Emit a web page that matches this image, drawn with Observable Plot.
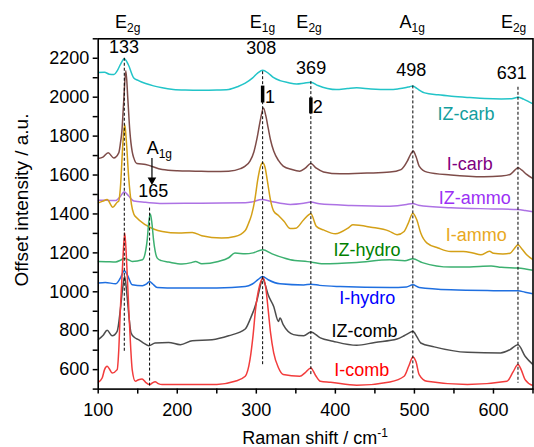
<!DOCTYPE html>
<html><head><meta charset="utf-8">
<script src="https://cdn.jsdelivr.net/npm/d3@7"></script>
<script src="https://cdn.jsdelivr.net/npm/@observablehq/plot@0.6"></script>
<style>body{margin:0;background:#fff;} svg{display:block}</style>
</head><body><div id="chart"></div>
<script>
const FONT = "Liberation Sans, Arial, Helvetica, sans-serif";

// ---- spectra (Raman shift cm^-1, offset intensity) ----
const izCarb = [[100,2127],[108,2128],[114,2118],[120,2116],[124,2135],[128,2167],[133,2198],[138,2168],[145,2099],[151,2085],[160,2070],[170,2058],[181,2048],[195,2040],[210,2037],[230,2036],[250,2037],[265,2040],[277,2055],[286,2072],[295,2098],[302,2125],[308,2138],[315,2124],[322,2100],[330,2085],[340,2075],[351,2068],[360,2072],[369,2077],[378,2060],[390,2045],[401,2039],[415,2044],[427,2048],[445,2042],[469,2039],[480,2043],[488,2048],[494,2054],[498,2058],[503,2045],[513,2022],[530,2012],[547,2005],[570,1998],[589,1993],[610,1991],[623,1992],[631,2000],[638,1990],[645,1976],[650,1966]];
const iCarb = [[100,1685],[106,1692],[112.6,1714],[119.7,1688],[126,1714],[128,1760],[130,1827],[132,1960],[135,2136],[137.5,1990],[140,1827],[143,1720],[145,1688],[149,1659],[160,1654],[181,1628],[200,1622],[223,1620],[245,1618],[265,1620],[280,1633],[286,1646],[292,1671],[297,1720],[301,1791],[305,1880],[309,1945],[312,1905],[315,1842],[318,1780],[322,1723],[328,1675],[334,1646],[345,1628],[355,1620],[362,1635],[369,1659],[376,1635],[385,1616],[406,1606],[440,1610],[469,1615],[483,1628],[491,1671],[495,1705],[498.5,1723],[502,1695],[506,1646],[516,1615],[546,1600],[588,1591],[610,1595],[621,1603],[627,1625],[631,1637],[636,1625],[642,1603],[650,1582]];
const izAmmo = [[100,1471],[110,1470],[122,1469],[128,1490],[133,1514],[138,1495],[145,1466],[160,1460],[181,1454],[230,1455],[286,1457],[295,1462],[307,1474],[318,1465],[343,1449],[360,1455],[369,1461],[380,1452],[420,1444],[469,1440],[490,1448],[498,1454],[505,1445],[546,1432],[600,1426],[631,1423],[640,1418],[650,1411]];
const iAmmo = [[100,1457],[106,1466],[111.3,1474],[118.5,1435],[124,1460],[126,1466],[128,1530],[131.5,1780],[133.6,1859],[135.5,1780],[138.6,1586],[142,1450],[145,1400],[149,1379],[160,1344],[181,1310],[202,1302],[219,1305],[231,1288],[256,1276],[273,1284],[286,1315],[290,1350],[294,1395],[298,1470],[302,1580],[305,1640],[308,1663],[311,1640],[314,1570],[318,1470],[322,1415],[328,1392],[335,1362],[343,1325],[350,1327],[360,1370],[369,1401],[376,1336],[385,1318],[400,1298],[416,1327],[422,1344],[445,1332],[468,1312],[478,1293],[487,1310],[492,1350],[498,1404],[503,1370],[508,1302],[516,1250],[530,1225],[546,1207],[562,1207],[574,1199],[584,1190],[595,1208],[600,1198],[612,1194],[621,1198],[626,1220],[631,1242],[636,1220],[642,1190],[650,1165]];
const izHydro = [[100,1156],[110,1155],[122,1153],[128,1162],[133,1173],[138,1165],[143,1156],[156,1165],[160,1210],[162,1267],[164,1360],[166,1400],[168,1350],[170,1267],[172,1210],[174.7,1173],[180,1160],[189,1153],[206,1143],[218,1150],[223,1156],[231,1144],[252,1156],[265,1175],[273,1199],[286,1195],[296,1200],[308,1216],[320,1195],[343,1165],[365,1155],[385,1144],[427,1151],[469,1165],[488,1160],[498,1170],[510,1150],[546,1127],[570,1128],[597,1133],[610,1126],[631,1122],[650,1110]];
const iHydro = [[100,1045],[109,1048],[122,1041],[128,1070],[133,1108],[137,1085],[143,1036],[156,1031],[161,1040],[165,1053],[169,1040],[174.7,1022],[200,1019],[250,1020],[286,1027],[295,1040],[302,1062],[308,1079],[315,1062],[330,1041],[360,1035],[369,1039],[380,1033],[406,1027],[469,1022],[490,1025],[498,1036],[506,1022],[546,1010],[600,1006],[631,1005],[640,998],[650,990]];
const izComb = [[100,754],[106,775],[111.3,802],[117.7,774],[124,797],[128,908],[131,1020],[133.5,1080],[136,1000],[139,870],[141.5,790],[146,765],[151,754],[158,735],[164,723],[172,737],[189,740],[204,728],[219,749],[244,754],[265,774],[286,809],[292,857],[301,959],[305,1030],[308,1071],[311,1040],[315,985],[322,925],[328,848],[330,865],[334,831],[347,780],[360,774],[369,794],[381,763],[397,746],[427,725],[450,740],[478,757],[487,774],[494,790],[498,797],[503,770],[508,737],[525,717],[567,689],[609,686],[621,703],[631,728],[640,669],[650,626]];
const iComb = [[100,535],[105,557],[108,600],[111.3,617],[114,605],[117.7,583],[124,600],[126,700],[128,908],[131,1150],[133.6,1302],[136,1150],[138.7,908],[141,720],[143,600],[147,540],[151,548],[155.5,552],[160,535],[165,523],[168,530],[172,538],[176,528],[181,523],[220,523],[250,524],[273,540],[286,566],[292,651],[296,780],[299,908],[304,1030],[309,1071],[312,1020],[315,908],[318,790],[322,686],[328,610],[334,575],[355,566],[362,585],[369,609],[375,570],[381,540],[394,535],[427,520],[469,537],[487,566],[493,620],[498,665],[502,640],[506,575],[516,540],[567,523],[617,540],[625,590],[631,626],[635,600],[640,549],[650,518]];

const seriesData = [izCarb, iCarb, izAmmo, iAmmo, izHydro, iHydro, izComb, iComb];
const seriesNames = ["IZ-carb","I-carb","IZ-ammo","I-ammo","IZ-hydro","I-hydro","IZ-comb","I-comb"];
const lineColors = ["#22c4c8","#7e4c49","#ad72e4","#d4a017","#3cb070","#1f6fe0","#4d4d4d","#f23c3c"];
const labelColors = ["#139e9e","#800080","#9b30f5","#e8a823","#008000","#0000ff","#000000","#ff0000"];
const labelX = [566, 570.7, 577, 579, 440.6, 441, 437.5, 434];
const labelY = [1878, 1625, 1449, 1259, 1182, 934, 763, 566];

// ---- ticks ----
const xMajor = [100,200,300,400,500,600];
const xMinor = [150,250,350,450,550,650];
const yMajor = [600,800,1000,1200,1400,1600,1800,2000,2200];
const yMinor = [500,700,900,1100,1300,1500,1700,1900,2100,2300];

// ---- peak markers ----
const peakX      = [133, 165, 308, 369, 498, 631];
const peakTop    = [2200, 1430, 2131, 2080, 2058, 2051];
const peakBottom = [686, 515, 625, 570, 545, 530];
const peakText   = ["133","165","308","369","498","631"];
const peakTextX  = [133.3, 170.2, 307, 370, 496.5, 623.7];
const peakTextY  = [2225, 1483, 2217, 2119, 2104, 2089];

const modeMain = ["E","E","E","A","E"];
const modeSub  = ["2g","1g","2g","1g","2g"];
const modeX    = [122, 292.3, 351.3, 481.7, 610];

const bars = [{x:308, y1:1970, y2:2057, tx:311.5, t:"1"}, {x:369, y1:1914, y2:1996, tx:372, t:"2"}];
const arrow = [{x:168, y1:1688, y2:1582, tip:1574}];
const a1gLabel = {x:161.9, y:1706};

const rows = seriesData.flatMap((pts, i) => pts.map(([x, y]) => ({x, y, s: seriesNames[i]})));
const peaks = peakX.map((x, i) => ({x, y1: peakTop[i], y2: peakBottom[i]}));

const chart = Plot.plot({
  width: 534, height: 447,
  marginLeft: 97.7, marginRight: 1.5, marginTop: 38.3, marginBottom: 58.4,
  x: {domain: [100, 650]},
  y: {domain: [500, 2300]},
  color: {domain: seriesNames, range: lineColors},
  style: {fontFamily: FONT, fontSize: "18px", color: "black", background: "white"},
  marks: [
    Plot.line(rows, {x: "x", y: "y", z: "s", stroke: "s", strokeWidth: 1.5, curve: "monotone-x", clip: true}),
    Plot.ruleX(peaks, {x: "x", y1: "y1", y2: "y2", stroke: "black", strokeWidth: 1, strokeDasharray: "3,2"}),
    Plot.ruleX(bars, {x: "x", y1: "y1", y2: "y2", stroke: "black", strokeWidth: 3.5}),
    Plot.link(arrow, {x1: "x", x2: "x", y1: "y1", y2: "y2", stroke: "black", strokeWidth: 1.2}),
    Plot.dot(arrow, {x: "x", y: "tip", symbol: "triangle", r: 3.2, rotate: 180, fill: "black", stroke: null}),
    Plot.frame({stroke: "black", strokeWidth: 1.6}),
    Plot.axisX({ticks: xMajor, tickSize: 5, tickPadding: 9, strokeWidth: 1.5, fontSize: 18, tickFormat: d => String(d), label: null}),
    Plot.axisX({ticks: xMinor, tickSize: 5, tickFormat: () => "", strokeWidth: 1.5, label: null}),
    Plot.axisY({ticks: yMajor, tickSize: 5, tickPadding: 4, strokeWidth: 1.5, fontSize: 18, tickFormat: d => String(d), label: null}),
    Plot.axisY({ticks: yMinor, tickSize: 5, tickFormat: () => "", strokeWidth: 1.5, label: null})
  ]
});
document.getElementById("chart").appendChild(chart);

const sx = chart.scale("x"), sy = chart.scale("y");
const g = d3.select(chart).append("g").attr("font-family", FONT);

function addText(x, y, parts, anchor, color, size) {
  const t = g.append("text").attr("x", x).attr("y", y).attr("text-anchor", anchor)
    .attr("fill", color).attr("font-size", size);
  parts.forEach(p => {
    const ts = t.append("tspan").text(p.t);
    if (p.sub) ts.attr("dy", 4).attr("font-size", 12);
    if (p.sup) ts.attr("dy", -7).attr("font-size", 12);
  });
  return t;
}

// mode labels above frame
modeMain.forEach((m, i) => addText(sx.apply(modeX[i]), 28.3, [{t: m}, {t: modeSub[i], sub: true}], "start", "black", 18));
// peak numbers
peakText.forEach((t, i) => addText(sx.apply(peakTextX[i]), sy.apply(peakTextY[i]), [{t}], "middle", "black", 18));
// A1g near 165
addText(sx.apply(a1gLabel.x), sy.apply(a1gLabel.y), [{t: "A"}, {t: "1g", sub: true}], "start", "black", 18);
// bar digits
bars.forEach(b => addText(sx.apply(b.tx), sy.apply(b.y1), [{t: b.t}], "start", "black", 18));
// series labels
seriesNames.forEach((n, i) => addText(sx.apply(labelX[i]), sy.apply(labelY[i]), [{t: n}], "middle", labelColors[i], 18));
// axis titles
addText(315, 444, [{t: "Raman shift / cm"}, {t: "-1", sup: true}], "middle", "black", 18);
addText(0, 0, [{t: "Offset intensity / a.u."}], "middle", "black", 19)
  .attr("transform", "translate(27.5,200) rotate(-90)");
</script></body></html>
